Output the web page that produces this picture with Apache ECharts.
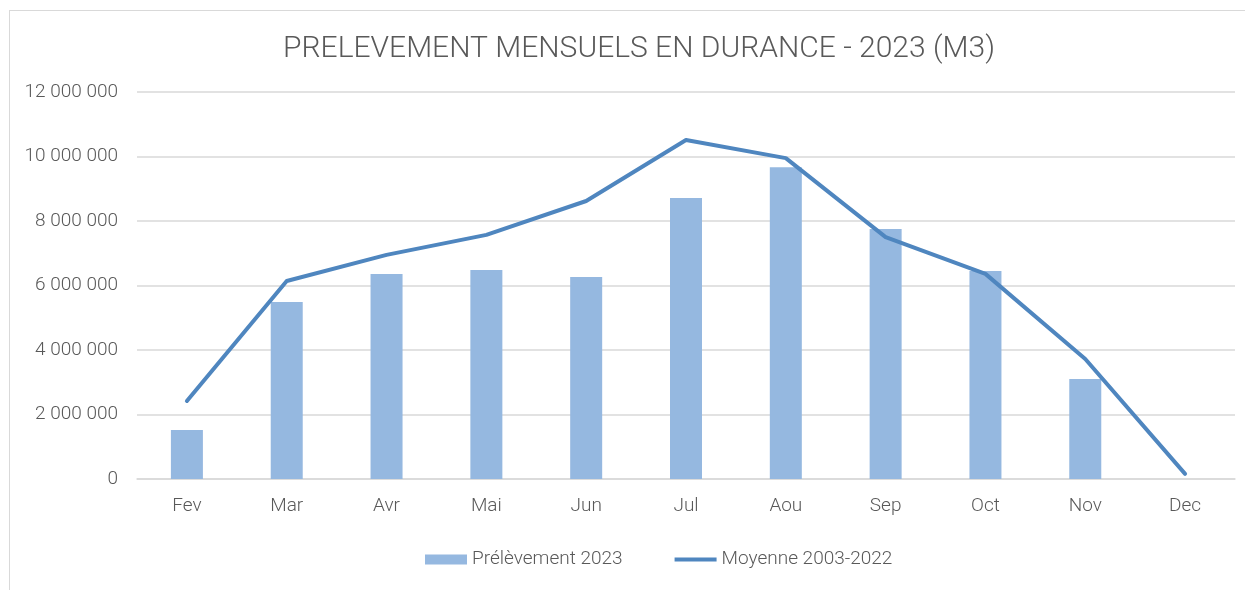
<!DOCTYPE html>
<html>
<head>
<meta charset="utf-8">
<script src="https://cdn.jsdelivr.net/npm/echarts@6/dist/echarts.min.js"></script>
<style>
  html, body { margin: 0; padding: 0; background: #fff; }
  #frame { position: absolute; left: 9px; top: 10px; width: 1245px; height: 590px; border: 1px solid #d9d9d9; box-sizing: border-box; }
  #chart { position: absolute; left: 0; top: 0; width: 1245px; height: 590px; }
</style>
</head>
<body>
<div id="frame"></div>
<div id="chart"></div>
<script>
// mois affichés
const months = ['Fev', 'Mar', 'Avr', 'Mai', 'Jun', 'Jul', 'Aou', 'Sep', 'Oct', 'Nov', 'Dec'];
// prélèvements 2023 (m3)
const prelevement2023 = [1520000, 5490000, 6360000, 6480000, 6260000, 8710000, 9670000, 7750000, 6450000, 3100000, null];
// moyenne 2003-2022 (m3)
const moyenne = [2420000, 6140000, 6950000, 7570000, 8620000, 10510000, 9950000, 7500000, 6360000, 3720000, 160000];

const txt = '#595959';
const fmt = v => String(v).replace(/\B(?=(\d{3})+(?!\d))/g, ' ');

const chart = echarts.init(document.getElementById('chart'));
chart.setOption({
  animation: false,
  textStyle: { fontFamily: 'Roboto' },
  title: {
    text: 'PRELEVEMENT MENSUELS EN DURANCE - 2023 (M3)',
    left: 634, top: 29, textAlign: 'center',
    textStyle: { fontSize: 30, fontWeight: 300, color: txt, fontFamily: 'Roboto' }
  },
  legend: {
    bottom: 16, left: 420, itemGap: 52,
    textStyle: { fontSize: 19, color: txt, fontWeight: 300 },
    data: [
      { name: 'Prélèvement 2023', icon: 'rect', itemWidth: 42, itemHeight: 10 },
      { name: 'Moyenne 2003-2022', icon: 'path://M0,0 L42,0 L42,4 L0,4 Z', itemWidth: 45, itemHeight: 4 }
    ],
    itemWidth: 42, itemHeight: 10
  },
  grid: { left: 137, right: 10, top: 92, bottom: 111, containLabel: false },
  xAxis: {
    type: 'category', data: months,
    axisLine: { lineStyle: { color: '#d9d9d9', width: 1.5 } },
    axisTick: { show: false },
    axisLabel: { fontSize: 19, color: txt, margin: 18, fontWeight: 300 }
  },
  yAxis: {
    type: 'value', min: 0, max: 12000000, interval: 2000000,
    axisLine: { show: false }, axisTick: { show: false },
    splitLine: { lineStyle: { color: '#d9d9d9', width: 1.5 } },
    axisLabel: { fontSize: 19, color: txt, margin: 19, fontWeight: 300, formatter: fmt }
  },
  series: [
    {
      name: 'Prélèvement 2023', type: 'bar', data: prelevement2023,
      barWidth: 32, itemStyle: { color: '#95b8e0' }
    },
    {
      name: 'Moyenne 2003-2022', type: 'line', data: moyenne,
      symbol: 'none', lineStyle: { color: '#4f86bf', width: 4, cap: 'round', join: 'round' },
      itemStyle: { color: '#4f86bf' }
    }
  ]
});
</script>
</body>
</html>
